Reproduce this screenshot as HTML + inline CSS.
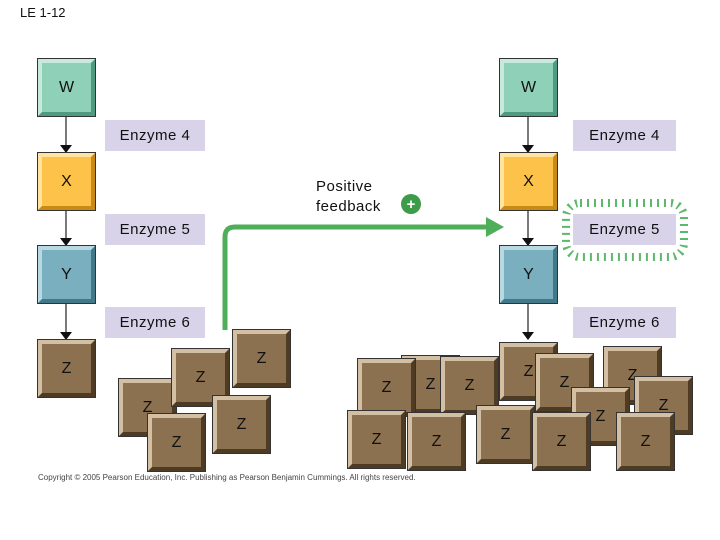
<!DOCTYPE html>
<html><head><style>
body{margin:0;width:720px;height:540px;background:#fff;position:relative;overflow:hidden;font-family:"Liberation Sans",Arial,sans-serif}
.b{position:absolute;box-sizing:border-box;width:57px;height:57px;border:4px solid;font-size:16px;display:flex;align-items:center;justify-content:center;outline:1px solid #333;color:#111}
.w{background:#8fd1b8;border-color:#c8eadc #4f9a80 #4f9a80 #c8eadc}
.x{background:#fcc24a;border-color:#fde4a0 #c98a18 #c98a18 #fde4a0}
.y{background:#79afbf;border-color:#b8d8e2 #43788a #43788a #b8d8e2}
.z{background:#8c7150;border-color:#d2bfa4 #4e3b24 #4e3b24 #d2bfa4}
.e{position:absolute;background:#d9d3ea;width:100px;height:31px;font-size:15px;letter-spacing:0.5px;display:flex;align-items:center;justify-content:center;color:#111}
.t{position:absolute;font-size:15px;color:#111}
</style></head><body>
<div class="t" style="left:20px;top:5px;font-size:13px">LE 1-12</div>
<svg width="720" height="540" style="position:absolute;left:0;top:0">
<defs><marker id="a" markerWidth="8" markerHeight="12" refX="7" refY="6" orient="auto" markerUnits="userSpaceOnUse"><path d="M0,0L8,6L0,12z" fill="#111"/></marker></defs>
<g stroke="#333" stroke-width="1.3" marker-end="url(#a)">
<line x1="66" y1="117" x2="66" y2="152"/><line x1="66" y1="211" x2="66" y2="245"/><line x1="66" y1="304" x2="66" y2="339"/>
<line x1="528" y1="117" x2="528" y2="152"/><line x1="528" y1="211" x2="528" y2="245"/><line x1="528" y1="304" x2="528" y2="339"/>
</g>
<path d="M225,330 V237 Q225,227 235,227 H488" fill="none" stroke="#4fae5a" stroke-width="5"/>
<path d="M486,217 L504,227 L486,237z" fill="#4fae5a"/>
<circle cx="411" cy="204" r="10" fill="#3e9b4a"/>
<text x="411" y="209" text-anchor="middle" fill="#fff" font-size="15" font-weight="bold" font-family="Liberation Sans">+</text>
<rect x="566" y="203" width="118" height="54" rx="14" fill="none" stroke="#5cb86a" stroke-width="8" stroke-dasharray="2 5"/>
</svg>
<div class="b w" style="left:38px;top:59px">W</div>
<div class="b w" style="left:500px;top:59px">W</div>
<div class="b x" style="left:38px;top:153px">X</div>
<div class="b x" style="left:500px;top:153px">X</div>
<div class="b y" style="left:38px;top:246px">Y</div>
<div class="b y" style="left:500px;top:246px">Y</div>
<div class="e" style="left:105px;top:120px">Enzyme 4</div>
<div class="e" style="left:573px;top:120px;width:103px">Enzyme 4</div>
<div class="e" style="left:105px;top:214px">Enzyme 5</div>
<div class="e" style="left:573px;top:214px;width:103px">Enzyme 5</div>
<div class="e" style="left:105px;top:307px">Enzyme 6</div>
<div class="e" style="left:573px;top:307px;width:103px">Enzyme 6</div>
<div class="t" style="left:316px;top:177px;line-height:20px;letter-spacing:0.5px">Positive<br>feedback</div>
<div class="b z" style="left:38px;top:340px">Z</div>
<div class="b z" style="left:233px;top:330px">Z</div>
<div class="b z" style="left:119px;top:379px">Z</div>
<div class="b z" style="left:172px;top:349px">Z</div>
<div class="b z" style="left:213px;top:396px">Z</div>
<div class="b z" style="left:148px;top:414px">Z</div>
<div class="b z" style="left:402px;top:356px">Z</div>
<div class="b z" style="left:358px;top:359px">Z</div>
<div class="b z" style="left:441px;top:357px">Z</div>
<div class="b z" style="left:500px;top:343px">Z</div>
<div class="b z" style="left:536px;top:354px">Z</div>
<div class="b z" style="left:604px;top:347px">Z</div>
<div class="b z" style="left:635px;top:377px">Z</div>
<div class="b z" style="left:572px;top:388px">Z</div>
<div class="b z" style="left:348px;top:411px">Z</div>
<div class="b z" style="left:408px;top:413px">Z</div>
<div class="b z" style="left:477px;top:406px">Z</div>
<div class="b z" style="left:533px;top:413px">Z</div>
<div class="b z" style="left:617px;top:413px">Z</div>
<div class="t" style="left:38px;top:473px;font-size:8px;color:#444">Copyright © 2005 Pearson Education, Inc. Publishing as Pearson Benjamin Cummings. All rights reserved.</div>
</body></html>
